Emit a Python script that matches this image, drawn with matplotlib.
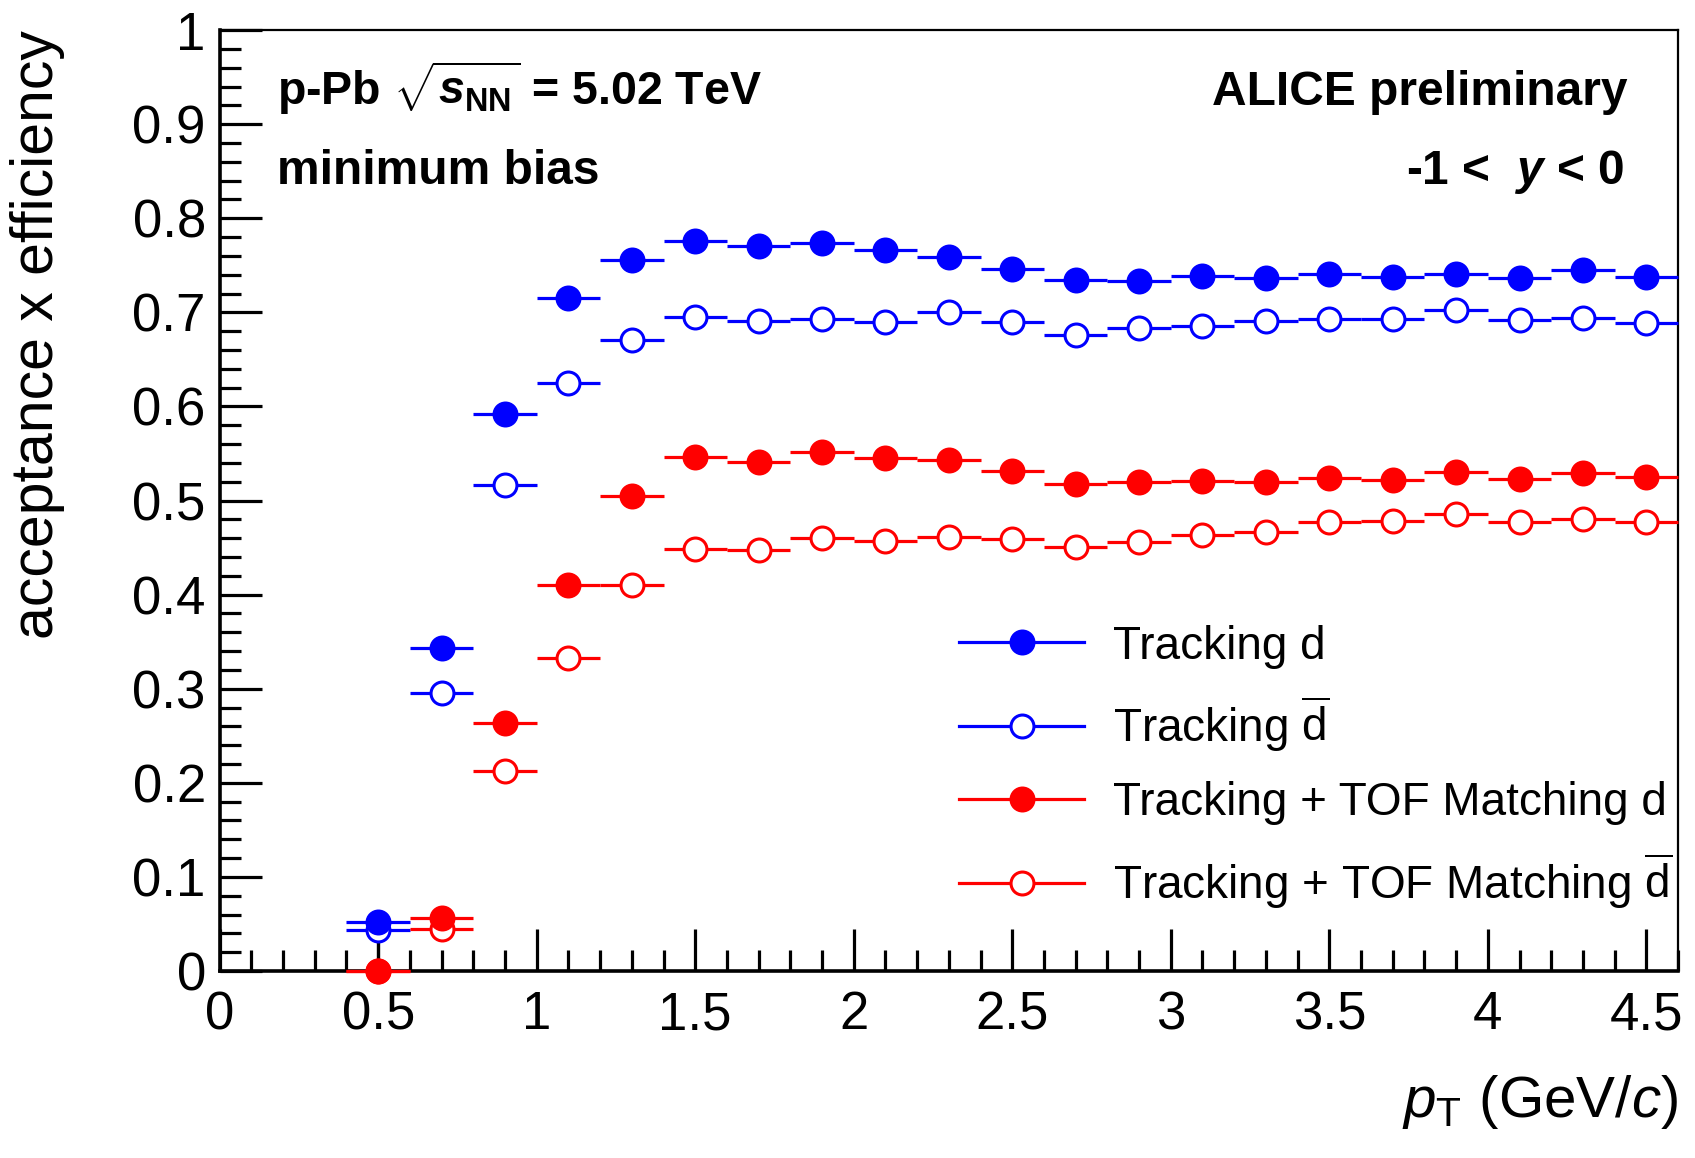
import numpy as np
import matplotlib
matplotlib.use("Agg")
import matplotlib.pyplot as plt
from matplotlib.lines import Line2D
from matplotlib.ticker import MultipleLocator, FuncFormatter

plt.rcParams['font.family'] = ['Liberation Sans', 'DejaVu Sans']
plt.rcParams['mathtext.fontset'] = 'custom'
plt.rcParams['mathtext.rm'] = 'Liberation Sans'
plt.rcParams['mathtext.it'] = 'Liberation Sans:italic'
plt.rcParams['mathtext.bf'] = 'Liberation Sans:bold'
try:
    plt.rcParams['mathtext.bfit'] = 'Liberation Sans:bold:italic'
    BFIT = True
except KeyError:
    BFIT = False

# ---- data ----
pt = [0.5, 0.7, 0.9, 1.1, 1.3, 1.5, 1.7, 1.9, 2.1, 2.3, 2.5,
      2.7, 2.9, 3.1, 3.3, 3.5, 3.7, 3.9, 4.1, 4.3, 4.5]
pt_halfwidth = [0.1] * len(pt)

trk_d = [0.052, 0.343, 0.592, 0.715, 0.756, 0.776, 0.771, 0.774, 0.766, 0.759, 0.746,
         0.734, 0.733, 0.739, 0.736, 0.741, 0.738, 0.741, 0.736, 0.745, 0.738]
trk_dbar = [0.044, 0.295, 0.516, 0.625, 0.671, 0.695, 0.691, 0.693, 0.690, 0.700, 0.690,
            0.676, 0.683, 0.686, 0.691, 0.693, 0.693, 0.702, 0.692, 0.694, 0.689]
tof_d = [0.0, 0.056, 0.264, 0.410, 0.505, 0.546, 0.541, 0.552, 0.545, 0.543, 0.531,
         0.518, 0.520, 0.521, 0.520, 0.524, 0.522, 0.530, 0.523, 0.529, 0.525]
tof_dbar = [0.0, 0.045, 0.213, 0.333, 0.410, 0.448, 0.447, 0.460, 0.457, 0.461, 0.459,
            0.451, 0.456, 0.463, 0.467, 0.477, 0.478, 0.486, 0.477, 0.480, 0.477]

labels = ["Tracking d", r"Tracking $\mathrm{\overline{d}}$",
          "Tracking + TOF Matching d", r"Tracking + TOF Matching $\mathrm{\overline{d}}$"]

BLUE = (0, 0, 1)
RED = (1, 0, 0)

fig = plt.figure(figsize=(16.95, 11.58), dpi=100)
ax = fig.add_axes([0.1296, 0.1615, 0.8604, 0.8125])

ms = 16.5
elw = 2.3
series = [
    (trk_d, BLUE, True),
    (trk_dbar, BLUE, False),
    (tof_d, RED, True),
    (tof_dbar, RED, False),
]

# black vertical error bar at the first bin
ax.vlines(pt[0], tof_d[0], trk_dbar[0], color='black', lw=2.3, zorder=3, clip_on=False)

handles = []
for i, (vals, col, filled) in enumerate(series):
    fc = col if filled else 'white'
    ax.errorbar(pt, vals, xerr=pt_halfwidth, fmt='o', color=col, ecolor=col,
                elinewidth=elw, capsize=0, markersize=ms, markerfacecolor=fc,
                markeredgecolor=col, markeredgewidth=2.2, clip_on=False,
                zorder=5 if filled else 4)
    handles.append(Line2D([], [], color=col, lw=elw, marker='o', markersize=ms,
                          markerfacecolor=fc, markeredgecolor=col, markeredgewidth=2.2))

ax.set_xlim(0, 4.6)
ax.set_ylim(0, 1.0)

ax.xaxis.set_major_locator(MultipleLocator(0.5))
ax.xaxis.set_minor_locator(MultipleLocator(0.1))
ax.yaxis.set_major_locator(MultipleLocator(0.1))
ax.yaxis.set_minor_locator(MultipleLocator(0.02))
fmt = FuncFormatter(lambda v, p: f"{v:g}")
ax.xaxis.set_major_formatter(fmt)
ax.yaxis.set_major_formatter(fmt)

ax.tick_params(axis='both', which='both', direction='in', top=False, right=False,
               color='black')
ax.tick_params(axis='both', which='major', length=30, width=2.3, labelsize=38)
ax.tick_params(axis='both', which='minor', length=15, width=2.3)
ax.tick_params(axis='x', which='major', pad=14)
ax.tick_params(axis='y', which='major', pad=10)

for s in ['left', 'bottom']:
    ax.spines[s].set_linewidth(2.6)
for s in ['top', 'right']:
    ax.spines[s].set_linewidth(1.6)

ax.set_xlabel(r"$p_{\mathrm{T}}$ (GeV/$c$)", fontsize=42, loc='right')
ax.xaxis.set_label_coords(1.0, -0.108)
ax.set_ylabel("acceptance x efficiency", fontsize=42.5, loc='top')
ax.yaxis.set_label_coords(-0.106, 1.0)

s_tex = r"\mathbfit{s}" if BFIT else r"\mathbf{s}"
y_tex = r"\mathbfit{y}" if BFIT else r"\mathit{y}"
ax.text(0.039, 0.920, r"p-Pb $\sqrt{" + s_tex + r"_{\mathbf{NN}}}$ = 5.02 TeV",
        transform=ax.transAxes, fontsize=33.5, fontweight='bold', ha='left', va='baseline')
ax.text(0.039, 0.836, "minimum bias", transform=ax.transAxes,
        fontsize=34.5, fontweight='bold', ha='left', va='baseline')
ax.text(0.9655, 0.920, "ALICE preliminary", transform=ax.transAxes,
        fontsize=34.5, fontweight='bold', ha='right', va='baseline')
ax.text(0.963, 0.836, r"-1 <  $" + y_tex + r"$ < 0", transform=ax.transAxes,
        fontsize=34.5, fontweight='bold', ha='right', va='baseline')

ax.legend(handles, labels, loc='center left', bbox_to_anchor=(0.507, 0.216),
          frameon=False, fontsize=33, handlelength=2.73, handletextpad=0.63,
          labelspacing=0.58, borderpad=0, borderaxespad=0)

fig.savefig("out.png", dpi=100)
